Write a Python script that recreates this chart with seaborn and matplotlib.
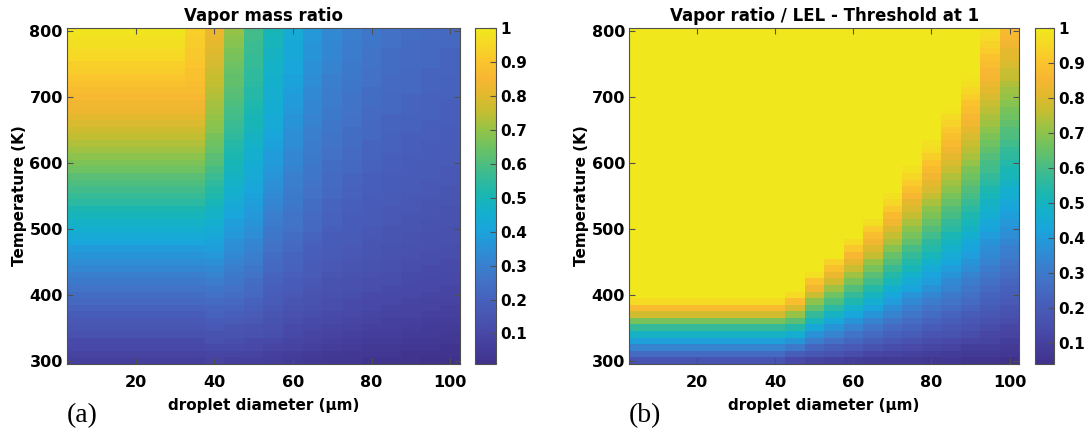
import numpy as np
import pandas as pd
import seaborn as sns
import matplotlib.pyplot as plt
from matplotlib.colors import LinearSegmentedColormap

# grid of the two maps
temps = list(range(300, 810, 10))        # K, bottom -> top
diameters = list(range(5, 105, 5))       # um

# (a) vapor mass ratio, one list per droplet size, T = 300..800 K
a_small = [.07, .08, .10, .11, .13, .15, .16, .18, .20, .22,
           .24, .26, .28, .30, .32, .34, .36, .38, .41, .43,
           .45, .47, .49, .51, .54, .56, .58, .60, .62, .65,
           .67, .69, .71, .73, .75, .77, .79, .81, .83, .84,
           .86, .87, .89, .90, .92, .93, .95, .96, .97, .98,
           .99]
a_d35 = [.07, .08, .10, .11, .13, .15, .16, .18, .20, .22,
         .24, .26, .28, .30, .32, .34, .36, .38, .41, .43,
         .45, .47, .49, .51, .54, .56, .58, .60, .62, .65,
         .67, .69, .71, .73, .75, .77, .79, .81, .83, .84,
         .86, .87, .88, .89, .89, .90, .91, .91, .92, .92,
         .93]
a_d40 = [.08, .09, .11, .13, .14, .16, .18, .20, .21, .23,
         .25, .27, .29, .31, .33, .35, .37, .39, .40, .42,
         .43, .45, .47, .48, .50, .52, .53, .55, .57, .59,
         .61, .62, .64, .65, .66, .68, .69, .70, .71, .72,
         .73, .74, .75, .76, .77, .78, .79, .80, .81, .82,
         .83]
a_d45 = [.07, .09, .11, .12, .14, .15, .17, .19, .21, .22,
         .24, .25, .27, .28, .30, .31, .33, .34, .35, .37,
         .38, .39, .41, .42, .43, .45, .46, .47, .48, .49,
         .50, .51, .52, .53, .55, .56, .57, .58, .59, .60,
         .61, .62, .63, .63, .64, .65, .66, .67, .68, .69,
         .70]
a_d50 = [.07, .08, .10, .11, .13, .14, .16, .17, .19, .20,
         .22, .23, .24, .26, .27, .29, .30, .31, .32, .34,
         .35, .36, .37, .38, .39, .40, .41, .42, .43, .43,
         .44, .45, .46, .47, .48, .49, .50, .50, .51, .52,
         .53, .53, .54, .55, .55, .56, .56, .57, .57, .58,
         .58]
a_d55 = [.06, .07, .09, .10, .12, .13, .14, .15, .16, .17,
         .18, .19, .20, .21, .22, .23, .24, .25, .26, .27,
         .28, .29, .30, .31, .32, .33, .34, .35, .36, .37,
         .38, .38, .39, .40, .41, .42, .43, .43, .44, .44,
         .45, .45, .46, .46, .47, .47, .48, .48, .49, .49,
         .50]
a_d60 = [.05, .06, .08, .09, .10, .11, .12, .13, .14, .15,
         .16, .17, .18, .19, .20, .21, .21, .22, .23, .24,
         .25, .26, .26, .27, .28, .28, .29, .30, .30, .31,
         .32, .32, .33, .34, .34, .35, .36, .36, .37, .38,
         .38, .39, .40, .40, .41, .41, .42, .42, .42, .43,
         .43]
a_d65 = [.04, .05, .07, .08, .09, .10, .11, .12, .13, .14,
         .14, .15, .16, .17, .17, .18, .19, .19, .20, .21,
         .22, .22, .23, .24, .24, .25, .25, .26, .27, .27,
         .28, .28, .29, .29, .30, .30, .31, .31, .32, .32,
         .33, .33, .34, .34, .35, .35, .36, .36, .36, .37,
         .37]
a_d70 = [.03, .04, .06, .07, .08, .09, .10, .11, .12, .12,
         .13, .14, .14, .15, .16, .16, .17, .17, .18, .18,
         .19, .20, .20, .21, .21, .22, .22, .23, .23, .24,
         .24, .25, .25, .26, .26, .27, .27, .28, .28, .29,
         .29, .29, .30, .30, .31, .31, .32, .32, .32, .33,
         .33]
a_d75 = [.03, .03, .05, .06, .07, .08, .09, .10, .11, .11,
         .12, .13, .13, .14, .15, .15, .16, .16, .17, .17,
         .18, .18, .18, .19, .19, .20, .20, .21, .21, .22,
         .22, .23, .23, .24, .24, .24, .25, .25, .26, .26,
         .26, .27, .27, .28, .28, .28, .29, .29, .29, .30,
         .30]
a_d80 = [.02, .03, .04, .05, .06, .07, .08, .09, .10, .10,
         .11, .12, .12, .13, .14, .14, .15, .15, .15, .16,
         .16, .17, .17, .17, .18, .18, .19, .19, .19, .20,
         .20, .21, .21, .21, .22, .22, .22, .23, .23, .24,
         .24, .24, .25, .25, .25, .26, .26, .26, .27, .27,
         .27]
a_d85 = [.02, .03, .04, .05, .06, .07, .07, .08, .09, .10,
         .10, .11, .12, .12, .13, .13, .14, .14, .15, .15,
         .15, .16, .16, .16, .17, .17, .18, .18, .18, .19,
         .19, .19, .20, .20, .20, .21, .21, .21, .22, .22,
         .22, .23, .23, .23, .24, .24, .24, .24, .25, .25,
         .25]
a_d90 = [.02, .02, .03, .04, .05, .06, .07, .08, .08, .09,
         .10, .10, .11, .11, .12, .12, .13, .13, .14, .14,
         .15, .15, .15, .16, .16, .16, .17, .17, .17, .18,
         .18, .18, .19, .19, .19, .20, .20, .20, .21, .21,
         .21, .22, .22, .22, .22, .23, .23, .23, .23, .24,
         .24]
a_d95 = [.01, .02, .03, .04, .05, .05, .06, .07, .08, .08,
         .09, .10, .10, .11, .11, .12, .12, .13, .13, .13,
         .14, .14, .15, .15, .15, .16, .16, .16, .17, .17,
         .17, .18, .18, .18, .19, .19, .19, .20, .20, .20,
         .20, .21, .21, .21, .21, .22, .22, .22, .22, .23,
         .23]
a_d100 = [.01, .02, .02, .03, .04, .05, .06, .07, .07, .08,
          .09, .09, .10, .10, .11, .11, .12, .12, .13, .13,
          .13, .14, .14, .14, .15, .15, .15, .16, .16, .16,
          .17, .17, .17, .18, .18, .18, .19, .19, .19, .19,
          .20, .20, .20, .20, .21, .21, .21, .21, .22, .22,
          .22]

# (b) vapor ratio / LEL, capped at 1
b_small = [.17, .25, .33, .41, .49, .57, .67, .78, .87, .96] + [1.0] * 41
b_d45 = [.13, .21, .30, .38, .46, .54, .63, .71, .79, .88, .96] + [1.0] * 40
b_d50 = [.11, .18, .24, .31, .37, .44, .51, .57, .64, .70,
         .77, .84, .90, .97] + [1.0] * 37
b_d55 = [.10, .16, .21, .27, .33, .38, .44, .49, .55, .61,
         .66, .72, .78, .83, .89, .94] + [1.0] * 35
b_d60 = [.09, .14, .19, .24, .28, .33, .38, .43, .48, .53,
         .57, .62, .67, .72, .77, .82, .86, .91, .96] + [1.0] * 32
b_d65 = [.08, .12, .16, .21, .25, .29, .33, .38, .42, .46,
         .50, .54, .59, .63, .67, .71, .76, .80, .84, .88,
         .92, .97] + [1.0] * 29
b_d70 = [.07, .11, .14, .18, .22, .25, .29, .33, .36, .40,
         .43, .47, .51, .54, .58, .62, .65, .69, .73, .76,
         .80, .84, .87, .91, .95, .98] + [1.0] * 25
b_d75 = [.07, .10, .13, .16, .20, .23, .26, .29, .32, .35,
         .38, .42, .45, .48, .51, .54, .57, .60, .64, .67,
         .70, .73, .76, .79, .82, .86, .89, .92, .95, .98] + [1.0] * 21
b_d80 = [.06, .09, .12, .14, .17, .20, .23, .26, .28, .31,
         .34, .37, .40, .42, .45, .48, .51, .54, .56, .59,
         .62, .65, .68, .70, .73, .76, .79, .82, .84, .87,
         .90, .93, .96, .98] + [1.0] * 17
b_d85 = [.06, .08, .11, .13, .16, .18, .21, .23, .26, .28,
         .30, .33, .35, .38, .40, .43, .45, .48, .50, .52,
         .55, .57, .60, .62, .65, .67, .70, .72, .74, .77,
         .79, .82, .84, .87, .89, .91, .94, .96, .99] + [1.0] * 12
b_d90 = [.05, .07, .09, .12, .14, .16, .18, .20, .23, .25,
         .27, .29, .31, .33, .36, .38, .40, .42, .44, .47,
         .49, .51, .53, .55, .58, .60, .62, .64, .66, .68,
         .71, .73, .75, .77, .79, .82, .84, .86, .88, .90,
         .93, .95, .97, .99] + [1.0] * 7
b_d95 = [.05, .07, .09, .11, .12, .14, .16, .18, .20, .22,
         .23, .25, .27, .29, .31, .33, .35, .36, .38, .40,
         .42, .44, .46, .48, .49, .51, .53, .55, .57, .59,
         .60, .62, .64, .66, .68, .70, .72, .73, .75, .77,
         .79, .81, .83, .85, .86, .88, .90, .92, .94, .96,
         .97]
b_d100 = [.04, .06, .07, .09, .11, .12, .14, .16, .17, .19,
          .21, .22, .24, .26, .27, .29, .31, .32, .34, .36,
          .37, .39, .41, .42, .44, .46, .47, .49, .51, .52,
          .54, .56, .57, .59, .61, .62, .64, .66, .67, .69,
          .71, .72, .74, .76, .77, .79, .81, .82, .84, .86,
          .87]

a_columns = [a_small] * 6 + [a_d35, a_d40, a_d45, a_d50, a_d55, a_d60, a_d65,
                             a_d70, a_d75, a_d80, a_d85, a_d90, a_d95, a_d100]
b_columns = [b_small] * 8 + [b_d45, b_d50, b_d55, b_d60, b_d65, b_d70, b_d75,
                             b_d80, b_d85, b_d90, b_d95, b_d100]

x_ticks = [20, 40, 60, 80, 100]
y_ticks = [300, 400, 500, 600, 700, 800]
cbar_ticks = [0.1, 0.2, 0.3, 0.4, 0.5, 0.6, 0.7, 0.8, 0.9, 1]
cbar_labels = ['0.1', '0.2', '0.3', '0.4', '0.5', '0.6', '0.7', '0.8', '0.9', '1']

# parula as it looks in the printed figure (a bit muted in the blues)
parula_stops = [
    (0.00, (64, 50, 140)), (0.05, (68, 62, 155)), (0.10, (72, 75, 170)),
    (0.15, (72, 88, 180)), (0.20, (70, 100, 190)), (0.25, (65, 115, 198)),
    (0.30, (55, 130, 208)), (0.35, (40, 147, 215)), (0.40, (25, 165, 220)),
    (0.45, (20, 175, 205)), (0.50, (25, 182, 180)), (0.55, (50, 186, 155)),
    (0.60, (80, 190, 125)), (0.65, (112, 194, 95)), (0.70, (150, 195, 70)),
    (0.75, (195, 190, 50)), (0.80, (225, 185, 45)), (0.85, (247, 182, 50)),
    (0.90, (250, 196, 45)), (0.95, (246, 215, 38)), (1.00, (240, 232, 28))]
parula = LinearSegmentedColormap.from_list(
    'parula', [(p, tuple(c / 255 for c in rgb)) for p, rgb in parula_stops])

plt.rcParams['font.family'] = ['DejaVu Sans']
plt.rcParams['font.weight'] = 'bold'
plt.rcParams['axes.labelweight'] = 'bold'
plt.rcParams['axes.titleweight'] = 'bold'

fig = plt.figure(figsize=(10.87, 4.32), dpi=100)
ax_a = fig.add_axes([0.0616, 0.1574, 0.3616, 0.7778])
cax_a = fig.add_axes([0.4370, 0.1574, 0.0193, 0.7778])
ax_b = fig.add_axes([0.5787, 0.1574, 0.3590, 0.7778])
cax_b = fig.add_axes([0.9520, 0.1574, 0.0175, 0.7778])

edge = '#505050'


def draw(ax, cax, columns, title, tag, tag_x):
    df = pd.DataFrame(np.column_stack(columns), index=temps, columns=diameters)
    df = df.iloc[::-1]  # 800 K on top
    sns.heatmap(df, ax=ax, cbar_ax=cax, cmap=parula,
                vmin=df.values.min(), vmax=1,
                xticklabels=False, yticklabels=False)

    ax.set_xticks([diameters.index(d) + 0.5 for d in x_ticks])
    ax.set_xticklabels([str(d) for d in x_ticks])
    ax.set_yticks([list(df.index).index(t) + 0.5 for t in y_ticks])
    ax.set_yticklabels([str(t) for t in y_ticks], rotation=0)
    ax.tick_params(direction='in', length=4, width=0.8, color=edge,
                   top=True, right=True, labelsize=11.5, pad=3)
    ax.tick_params(axis='x', pad=8)
    for s in ax.spines.values():
        s.set_visible(True)
        s.set_color(edge)
        s.set_linewidth(0.8)

    ax.set_title(title, fontsize=12, pad=5)
    ax.set_xlabel('droplet diameter (µm)', fontsize=11, labelpad=6)
    ax.set_ylabel('Temperature (K)', fontsize=11, labelpad=2)

    cb = ax.collections[0].colorbar
    cb.set_ticks(cbar_ticks)
    cb.set_ticklabels(cbar_labels)
    cb.outline.set_edgecolor(edge)
    cb.outline.set_linewidth(0.8)
    cax.tick_params(direction='in', length=4, color=edge, labelsize=11, pad=3)

    fig.text(tag_x, 1 - 416 / 432, tag, family='Liberation Serif',
             fontweight='normal', fontsize=20, ha='left', va='center')


draw(ax_a, cax_a, a_columns, 'Vapor mass ratio', '(a)', 67 / 1087)
draw(ax_b, cax_b, b_columns, 'Vapor ratio / LEL - Threshold at 1', '(b)', 629 / 1087)

fig.savefig('out.png', dpi=100)
